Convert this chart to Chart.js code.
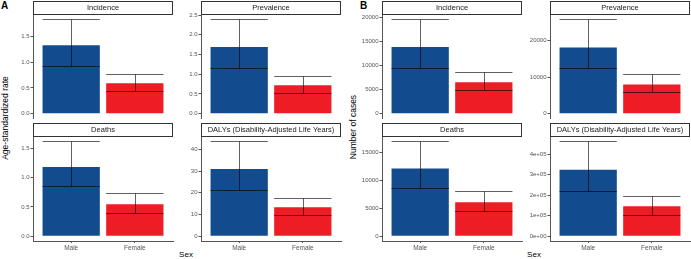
<!DOCTYPE html>
<html>
<head>
<meta charset="utf-8">
<script src="https://cdn.jsdelivr.net/npm/chart.js@4.4.1/dist/chart.umd.min.js"></script>
<style>
  body { margin: 0; background: #fff; overflow: hidden; }
  #wrap { position: relative; width: 691px; height: 259px; font-family: "Liberation Sans", Arial, sans-serif; }
  canvas { position: absolute; }
  .lbl { position: absolute; white-space: nowrap; color: #000; }
  .tag { font-weight: bold; font-size: 10px; }
  .ytitle { font-size: 8.5px; transform: translate(-50%, -50%) rotate(-90deg); }
  .xtitle { font-size: 8px; transform: translate(-50%, -50%); }
</style>
</head>
<body>
<div id="wrap">
  <div class="lbl tag" style="left:1px; top:0px;">A</div>
  <div class="lbl tag" style="left:360px; top:0px;">B</div>
  <div class="lbl ytitle" style="left:5px; top:118px;">Age-standardized rate</div>
  <div class="lbl ytitle" style="left:353px; top:127px;">Number of cases</div>
  <div class="lbl xtitle" style="left:186px; top:254px;">Sex</div>
  <div class="lbl xtitle" style="left:534px; top:254px;">Sex</div>
</div>
<script>
const sexes = ['Male', 'Female'];
const facetNames = ['Incidence', 'Prevalence', 'Deaths', 'DALYs (Disability-Adjusted Life Years)'];
const sexColors = ['#134C8E', '#EE1D25'];

// panel A - age-standardized rate, each pair is [Male, Female]
const rateValue = [[1.33, 0.59], [1.69, 0.72], [1.18, 0.545], [30.9, 13.3]];
const rateLower = [[0.93, 0.435], [1.17, 0.53], [0.85, 0.40], [21.1, 9.6]];
const rateUpper = [[1.84, 0.78], [2.40, 0.95], [1.62, 0.73], [43.8, 17.7]];
const rateTicks = [[0, 0.5, 1, 1.5], [0, 0.5, 1, 1.5, 2, 2.5], [0, 0.5, 1, 1.5], [0, 10, 20, 30, 40]];
const rateTickLabels = [['0.0', '0.5', '1.0', '1.5'], ['0.0', '0.5', '1.0', '1.5', '2.0', '2.5'],
  ['0.0', '0.5', '1.0', '1.5'], ['0', '10', '20', '30', '40']];

// panel B - number of cases
const caseValue = [[13800, 6500], [18100, 8000], [12100, 6050], [325000, 146000]];
const caseLower = [[9500, 4800], [12400, 5900], [8550, 4500], [220000, 105000]];
const caseUpper = [[19600, 8700], [25900, 10800], [17000, 8150], [465000, 197000]];
const caseTicks = [[0, 5000, 10000, 15000, 20000], [0, 10000, 20000], [0, 5000, 10000, 15000],
  [0, 100000, 200000, 300000, 400000]];
const caseTickLabels = [['0', '5000', '10000', '15000', '20000'], ['0', '10000', '20000'],
  ['0', '5000', '10000', '15000'], ['0e+00', '1e+05', '2e+05', '3e+05', '4e+05']];

const AXIS_W = 30;      // room for y tick labels
const PLOT_W = 140;
const lineCol = '#555';
const tickCol = '#555';

function errorBars(lower, upper) {
  return {
    id: 'errorBars',
    afterDatasetsDraw(chart) {
      const ctx = chart.ctx, y = chart.scales.y;
      ctx.save();
      ctx.strokeStyle = 'rgba(0,0,0,0.62)';
      ctx.lineWidth = 1;
      chart.getDatasetMeta(0).data.forEach((bar, i) => {
        const half = bar.width / 2;
        const yl = Math.round(y.getPixelForValue(lower[i])) + 0.5;
        const yh = Math.round(y.getPixelForValue(upper[i])) + 0.5;
        const xm = Math.round(bar.x) + 0.5;
        ctx.beginPath();
        ctx.moveTo(xm, yl); ctx.lineTo(xm, yh);
        ctx.moveTo(bar.x - half, yl); ctx.lineTo(bar.x + half, yl);
        ctx.moveTo(bar.x - half, yh); ctx.lineTo(bar.x + half, yh);
        ctx.stroke();
      });
      ctx.restore();
    }
  };
}

function strip(title) {
  return {
    id: 'strip',
    afterDraw(chart) {
      const ctx = chart.ctx, a = chart.chartArea;
      const h = 13;
      const top = a.top - h;
      ctx.save();
      ctx.fillStyle = '#fff';
      ctx.strokeStyle = '#333';
      ctx.lineWidth = 1;
      ctx.fillRect(a.left, top, a.right - a.left, h);
      ctx.strokeRect(Math.round(a.left) + 0.5, Math.round(top) + 0.5, Math.round(a.right - a.left) - 1, h);
      ctx.fillStyle = '#1a1a1a';
      ctx.font = '7.5px "Liberation Sans", Arial, sans-serif';
      ctx.textAlign = 'center';
      ctx.textBaseline = 'middle';
      ctx.fillText(title, (a.left + a.right) / 2, top + h / 2 + 0.5);
      ctx.restore();
    }
  };
}

function makeFacet(plotLeft, bottomRow, idx, vals, lower, upper, ticks, tickLabels) {
  const cv = document.createElement('canvas');
  const top = bottomRow ? 120 : 0;
  const height = bottomRow ? 139 : 120;
  const width = AXIS_W + PLOT_W + 2;
  cv.width = width;
  cv.height = height;
  cv.style.left = (plotLeft - AXIS_W) + 'px';
  cv.style.top = top + 'px';
  document.getElementById('wrap').appendChild(cv);

  const yMax = Math.max(...upper) * 1.05;
  new Chart(cv.getContext('2d'), {
    type: 'bar',
    data: {
      datasets: [{
        data: sexes.map((s, i) => ({ x: i + 1, y: vals[i] })),
        backgroundColor: sexColors,
        borderWidth: 0,
        categoryPercentage: 0.9,
        barPercentage: 1
      }]
    },
    options: {
      responsive: false,
      animation: false,
      events: [],
      layout: { padding: { top: bottomRow ? 16.3 : 14.3, bottom: bottomRow ? 4 : 1.6, right: 2, left: 0 } },
      plugins: { legend: { display: false }, tooltip: { enabled: false } },
      scales: {
        x: {
          type: 'linear',
          display: bottomRow,
          offset: false,
          min: 0.4,
          max: 2.6,
          afterBuildTicks: (ax) => { ax.ticks = sexes.map((s, i) => ({ value: i + 1 })); },
          afterFit: (ax) => {
            if (bottomRow) ax.height = 14;
            ax.paddingLeft = 0; ax.paddingRight = 0;
          },
          border: { display: true, color: lineCol, width: 1 },
          grid: { offset: false, drawOnChartArea: false, drawTicks: true, tickLength: 2, color: lineCol },
          ticks: {
            autoSkip: false, maxRotation: 0, padding: 1, color: tickCol,
            font: { size: 6.5, family: '"Liberation Sans", Arial, sans-serif' },
            callback: (v, i) => sexes[i]
          }
        },
        y: {
          min: -yMax / 1.05 * 0.05,
          max: yMax,
          afterBuildTicks: (ax) => { ax.ticks = ticks.map(v => ({ value: v })); },
          afterFit: (ax) => {
            ax.width = AXIS_W;
            ax.paddingTop = 0; ax.paddingBottom = 0;
          },
          border: { display: true, color: lineCol, width: 1 },
          grid: { drawOnChartArea: false, drawTicks: true, tickLength: 2.5, color: lineCol },
          ticks: {
            autoSkip: false, padding: 1, color: tickCol,
            font: { size: 6, family: '"Liberation Sans", Arial, sans-serif' },
            callback: (v, i) => tickLabels[i]
          }
        }
      }
    },
    plugins: [errorBars(lower, upper), strip(facetNames[idx])]
  });
}

const colLeftA = [33, 201];
const colLeftB = [382, 550];
for (let k = 0; k < 4; k++) {
  const col = k % 2, bottomRow = k >= 2;
  makeFacet(colLeftA[col], bottomRow, k, rateValue[k], rateLower[k], rateUpper[k], rateTicks[k], rateTickLabels[k]);
  makeFacet(colLeftB[col], bottomRow, k, caseValue[k], caseLower[k], caseUpper[k], caseTicks[k], caseTickLabels[k]);
}
</script>
</body>
</html>
